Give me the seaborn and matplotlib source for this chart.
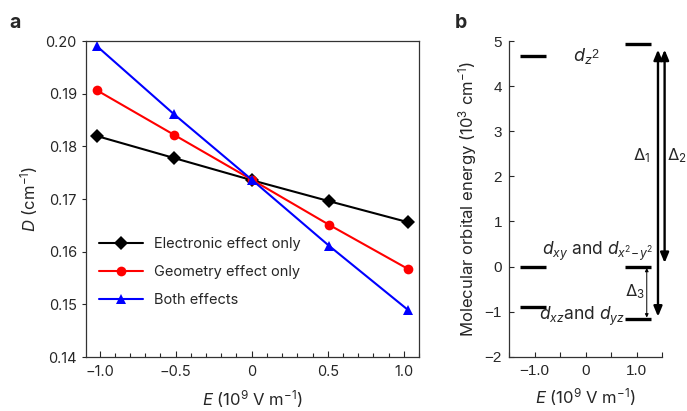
import pandas as pd
import seaborn as sns
import matplotlib.pyplot as plt
from matplotlib.ticker import MultipleLocator

# panel a data
field = [-1.02, -0.51, 0.0, 0.51, 1.03]
electronic = [0.1820, 0.1778, 0.1736, 0.1696, 0.1656]
geometry = [0.1907, 0.1822, 0.1737, 0.1651, 0.1567]
both = [0.1991, 0.1861, 0.1737, 0.1611, 0.1489]
series_names = ["Electronic effect only", "Geometry effect only", "Both effects"]

# panel b data (10^3 cm^-1)
level_fields = [-1.03, 1.03]
dz2 = [4.67, 4.94]
dxy = [0.0, 0.0]
dxz = [-0.89, -1.16]

sns.set_theme(style="ticks")
plt.rcParams["font.family"] = ["Inter", "DejaVu Sans"]
plt.rcParams["mathtext.fontset"] = "custom"
plt.rcParams["mathtext.it"] = "Inter:italic"
plt.rcParams["mathtext.rm"] = "Inter"

df = pd.DataFrame({
    "E": field * 3,
    "D": electronic + geometry + both,
    "series": [n for n in series_names for _ in field],
})

fig = plt.figure(figsize=(6.87, 4.11), dpi=100)
ax = fig.add_axes([0.125, 0.131, 0.485, 0.769])
sns.lineplot(data=df, x="E", y="D", hue="series", style="series",
             palette=["black", "#ff0000", "#0000ff"],
             markers={"Electronic effect only": "D", "Geometry effect only": "o", "Both effects": "^"},
             dashes=False, linewidth=1.5, markersize=7, markeredgewidth=0, ax=ax)
ax.set_xlim(-1.09, 1.1)
ax.set_ylim(0.14, 0.20)
ax.set_xticks([-1.0, -0.5, 0, 0.5, 1.0])
ax.set_xticklabels(["\u22121.0", "\u22120.5", "0", "0.5", "1.0"])
ax.xaxis.set_minor_locator(MultipleLocator(0.1))
ax.set_yticks([0.14, 0.15, 0.16, 0.17, 0.18, 0.19, 0.20])
ax.set_yticklabels(["0.14", "0.15", "0.16", "0.17", "0.18", "0.19", "0.20"])
ax.tick_params(axis="x", direction="in", length=4, width=0.8, labelsize=10.5, pad=6)
ax.tick_params(axis="x", which="minor", direction="in", length=3, width=0.8)
ax.tick_params(axis="y", direction="out", length=3, width=0.8, labelsize=10.5)
for s in ax.spines.values():
    s.set_linewidth(0.9)
    s.set_color("#333333")
ax.set_xlabel(r"$E$ (10$^9$ V m$^{-1}$)", fontsize=12, labelpad=6)
ax.set_ylabel(r"$D$ (cm$^{-1}$)", fontsize=12, labelpad=4)
leg = ax.legend(loc="center left", bbox_to_anchor=(0.0, 0.27), frameon=False,
                fontsize=10.5, handlelength=3, labelspacing=0.95)
fig.text(0.014, 0.945, "a", fontsize=14, fontweight="bold", va="center")

# panel b
bx = fig.add_axes([0.741, 0.132, 0.2227, 0.768])
half = 0.26
for lv in [dz2, dxy, dxz]:
    bx.hlines(lv, [e - half for e in level_fields], [e + half for e in level_fields],
              color="black", linewidth=2.4)
bx.set_xlim(-1.5, 1.5)
bx.set_ylim(-2, 5)
bx.set_xticks([-1.0, 0, 1.0])
bx.set_xticklabels(["\u22121.0", "0", "1.0"])
bx.xaxis.set_minor_locator(MultipleLocator(0.5))
bx.set_yticks(range(-2, 6))
bx.set_yticklabels(["\u22122", "\u22121", "0", "1", "2", "3", "4", "5"])
bx.tick_params(direction="in", length=3.5, width=0.8, labelsize=11, pad=5)
bx.tick_params(which="minor", direction="in", length=3.5, width=0.8)
for lab in bx.get_xticklabels() + bx.get_yticklabels():
    lab.set_fontfamily("Liberation Sans")
sns.despine(ax=bx)
for s in bx.spines.values():
    s.set_linewidth(0.9)
    s.set_color("#333333")
bx.set_xlabel(r"$E$ (10$^9$ V m$^{-1}$)", fontsize=12, labelpad=6)
bx.set_ylabel(r"Molecular orbital energy (10$^3$ cm$^{-1}$)", fontsize=12, labelpad=4)

bx.text(-0.06, 4.68, r"$d_{z}$", fontsize=13, ha="center", va="center")
bx.text(0.19, 4.7, "2", fontsize=9, ha="center", va="center", fontfamily="Liberation Sans")
bx.text(0.23, 0.33, r"$d_{xy}$ and $d_{x^2\!-\!y^2}$", fontsize=12.5, ha="center", va="center")
bx.text(-0.07, -1.1, r"$d_{xz}$and $d_{yz}$", fontsize=12.5, ha="center", va="center")

top = dz2[1]
bx.annotate("", xy=(1.42, dxz[1] + 0.05), xytext=(1.42, top - 0.13),
            arrowprops=dict(arrowstyle="<|-|>,head_length=0.6,head_width=0.25",
                            color="black", lw=1.7, mutation_scale=10, shrinkA=0, shrinkB=0),
            annotation_clip=False)
bx.annotate("", xy=(1.55, dxy[1] + 0.08), xytext=(1.55, top - 0.13),
            arrowprops=dict(arrowstyle="<|-|>,head_length=0.6,head_width=0.25",
                            color="black", lw=1.7, mutation_scale=10, shrinkA=0, shrinkB=0),
            annotation_clip=False)
bx.annotate("", xy=(1.2, dxz[1] + 0.03), xytext=(1.2, dxy[1] - 0.03),
            arrowprops=dict(arrowstyle="<|-|>", color="black", lw=0.7,
                            mutation_scale=5, shrinkA=0, shrinkB=0),
            annotation_clip=False)
bx.text(1.1, 2.45, r"$\Delta_1$", fontsize=12, ha="center", va="center")
bx.text(1.8, 2.45, r"$\Delta_2$", fontsize=12, ha="center", va="center")
bx.text(0.96, -0.56, r"$\Delta_3$", fontsize=12, ha="center", va="center")
fig.text(0.662, 0.945, "b", fontsize=14, fontweight="bold", va="center")

fig.savefig("out.png", dpi=100)
